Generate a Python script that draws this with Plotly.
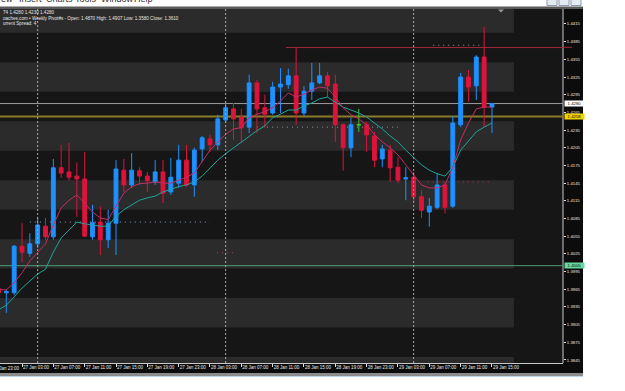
import plotly.graph_objects as go

# ---------------- data ----------------
hours = list(range(64))  # hourly bars, index 0 = 27 Jan 00:00

opens = [1.3966, 1.3959, 1.3959, 1.4038, 1.4026, 1.4042, 1.4072, 1.4054,
         1.4171, 1.4164, 1.4157, 1.4152, 1.4054, 1.4079, 1.4049, 1.4077,
         1.4167, 1.4142, 1.4166, 1.4157, 1.4147, 1.4164, 1.4130, 1.4145,
         1.4184, 1.4142, 1.4203, 1.4220, 1.4210, 1.4252, 1.4271, 1.4257,
         1.4240, 1.4315, 1.4273, 1.4264, 1.4308, 1.4312, 1.4327, 1.4264,
         1.4301, 1.4315, 1.4327, 1.4313, 1.4244, 1.4205, 1.4244, 1.4244,
         1.4225, 1.4186, 1.4201, 1.4172, 1.4152, 1.4155, 1.4122, 1.4096,
         1.4104, 1.4142, 1.4106, 1.4244, 1.4325, 1.4310, 1.4359, 1.4274]
highs = [1.3971, 1.3965, 1.4040, 1.4077, 1.4060, 1.4088, 1.4086, 1.4186,
         1.4210, 1.4213, 1.4180, 1.4198, 1.4108, 1.4105, 1.4100, 1.4184,
         1.4186, 1.4196, 1.4172, 1.4164, 1.4184, 1.4184, 1.4188, 1.4210,
         1.4210, 1.4205, 1.4225, 1.4227, 1.4261, 1.4283, 1.4281, 1.4271,
         1.4329, 1.4320, 1.4295, 1.4317, 1.4340, 1.4339, 1.4374, 1.4310,
         1.4349, 1.4349, 1.4334, 1.4329, 1.4246, 1.4256, 1.4271, 1.4249,
         1.4232, 1.4210, 1.4210, 1.4189, 1.4172, 1.4164, 1.4133, 1.4120,
         1.4162, 1.4147, 1.4259, 1.4332, 1.4337, 1.4362, 1.4410, 1.4280]
lows = [1.3954, 1.3925, 1.3955, 1.4011, 1.4020, 1.4035, 1.4049, 1.4049,
        1.4154, 1.4149, 1.4088, 1.4054, 1.4049, 1.4023, 1.4035, 1.4023,
        1.4130, 1.4137, 1.4142, 1.4130, 1.4142, 1.4111, 1.4125, 1.4137,
        1.4139, 1.4122, 1.4181, 1.4198, 1.4201, 1.4247, 1.4218, 1.4213,
        1.4230, 1.4230, 1.4239, 1.4261, 1.4264, 1.4305, 1.4244, 1.4259,
        1.4286, 1.4313, 1.4291, 1.4215, 1.4166, 1.4189, 1.4232, 1.4198,
        1.4172, 1.4172, 1.4147, 1.4145, 1.4116, 1.4113, 1.4086, 1.4071,
        1.4101, 1.4094, 1.4103, 1.4240, 1.4283, 1.4286, 1.4240, 1.4230]
closes = [1.3959, 1.3961, 1.4038, 1.4028, 1.4042, 1.4074, 1.4054, 1.4171,
          1.4162, 1.4155, 1.4152, 1.4055, 1.4078, 1.4049, 1.4077, 1.4169,
          1.4142, 1.4167, 1.4157, 1.4149, 1.4164, 1.4128, 1.4155, 1.4184,
          1.4142, 1.4201, 1.4222, 1.4210, 1.4254, 1.4273, 1.4254, 1.4239,
          1.4315, 1.4271, 1.4262, 1.4308, 1.4313, 1.4327, 1.4264, 1.4301,
          1.4315, 1.4327, 1.4310, 1.4244, 1.4205, 1.4244, 1.4244, 1.4227,
          1.4184, 1.4203, 1.4171, 1.4150, 1.4154, 1.4122, 1.4099, 1.4106,
          1.4142, 1.4104, 1.4247, 1.4325, 1.4308, 1.4359, 1.4274, 1.4280]

fast_ma = [1.3964, 1.3964, 1.3976, 1.3993, 1.4013, 1.4027, 1.4042, 1.4074,
           1.4103, 1.4116, 1.4125, 1.4111, 1.4096, 1.4086, 1.4083, 1.4106,
           1.4128, 1.4139, 1.4144, 1.4145, 1.4147, 1.4145, 1.4145, 1.4150,
           1.4155, 1.4162, 1.4181, 1.4201, 1.4215, 1.4228, 1.4237, 1.4239,
           1.4256, 1.4262, 1.4266, 1.4273, 1.4284, 1.4298, 1.4291, 1.4296,
           1.4303, 1.4308, 1.4306, 1.4291, 1.4273, 1.4261, 1.4254, 1.4244,
           1.4227, 1.4215, 1.4205, 1.4193, 1.4176, 1.4159, 1.4142, 1.4137,
           1.4137, 1.4142, 1.4172, 1.4218, 1.4247, 1.4271, 1.4274, 1.4274]
slow_ma = [1.3930, 1.3938, 1.3952, 1.3967, 1.3979, 1.3991, 1.3999, 1.4028,
           1.4052, 1.4066, 1.4079, 1.4076, 1.4074, 1.4072, 1.4072, 1.4089,
           1.4100, 1.4108, 1.4116, 1.4120, 1.4123, 1.4130, 1.4135, 1.4139,
           1.4142, 1.4147, 1.4157, 1.4171, 1.4184, 1.4195, 1.4205, 1.4215,
           1.4225, 1.4234, 1.4242, 1.4256, 1.4262, 1.4269, 1.4269, 1.4276,
           1.4281, 1.4288, 1.4291, 1.4283, 1.4274, 1.4269, 1.4264, 1.4257,
           1.4247, 1.4237, 1.4225, 1.4215, 1.4201, 1.4188, 1.4176, 1.4167,
           1.4161, 1.4157, 1.4172, 1.4201, 1.4217, 1.4232, 1.4240, 1.4247]

tick_hours = [3, 7, 11, 15, 19, 23, 27, 31, 35, 39, 43, 47, 51, 55, 59, 63]
tick_labels = ["27 Jan 03:00", "27 Jan 07:00", "27 Jan 11:00", "27 Jan 15:00",
               "27 Jan 19:00", "27 Jan 23:00", "28 Jan 03:00", "28 Jan 07:00",
               "28 Jan 11:00", "28 Jan 15:00", "28 Jan 19:00", "28 Jan 23:00",
               "29 Jan 03:00", "29 Jan 07:00", "29 Jan 11:00", "29 Jan 15:00"]
price_ticks = [1.3845, 1.3875, 1.3905, 1.3935, 1.3965, 1.3995, 1.4025, 1.4055,
               1.4085, 1.4115, 1.4145, 1.4175, 1.4205, 1.4235, 1.4265, 1.4295,
               1.4325, 1.4355, 1.4385, 1.4415]

bid_level = 1.4280
olive_level = 1.4258
green_level = 1.4005
week_high_level = 1.4375
separator_hours = [5, 29, 53]
band_lows = [1.380, 1.390, 1.400, 1.410, 1.420, 1.430, 1.440]
band_height = 0.005

header_lines = ["74 1.4280 1.4230 1.4280",
                "oaches.com \u2022 Weekly Pivot#s - Open: 1.4870 High: 1.4907 Low: 1.3580 Close: 1.3610",
                "urrent Spread: 4"]
menu_items = ["ew", "Insert", "Charts", "Tools", "Window", "Help"]

# ---------------- styling / layout helpers ----------------
FONT = "Liberation Sans, Arial, sans-serif"
BLUE = "#1e90ff"
RED = "#dc143c"
LIME = "#33cc33"
PINK = "#c02f66"
TEAL = "#1fa59a"
PLOT_W, PT, PB = 563, 9, 363


def pxx(px):
    return px / PLOT_W


def pyy(py):
    return 1 - (py - PT) / (PB - PT)


fig = go.Figure()

main_idx = [i for i in hours if opens[i] != closes[i]]
doji_idx = [i for i in hours if opens[i] == closes[i]]

fig.add_trace(go.Candlestick(
    x=[hours[i] for i in main_idx],
    open=[opens[i] for i in main_idx], high=[highs[i] for i in main_idx],
    low=[lows[i] for i in main_idx], close=[closes[i] for i in main_idx],
    increasing=dict(line=dict(color=BLUE, width=1), fillcolor=BLUE),
    decreasing=dict(line=dict(color=RED, width=1), fillcolor=RED),
    whiskerwidth=0, hoverinfo="skip", showlegend=False))
fig.add_trace(go.Candlestick(
    x=[hours[i] for i in doji_idx],
    open=[opens[i] for i in doji_idx], high=[highs[i] for i in doji_idx],
    low=[lows[i] for i in doji_idx], close=[closes[i] for i in doji_idx],
    increasing=dict(line=dict(color=LIME, width=1), fillcolor=LIME),
    decreasing=dict(line=dict(color=LIME, width=1), fillcolor=LIME),
    whiskerwidth=0, hoverinfo="skip", showlegend=False))
fig.add_trace(go.Scatter(x=hours, y=slow_ma, mode="lines",
                         line=dict(color=TEAL, width=1), hoverinfo="skip"))
fig.add_trace(go.Scatter(x=hours, y=fast_ma, mode="lines",
                         line=dict(color=PINK, width=1), hoverinfo="skip"))

shapes = []
# background bands
for lo in band_lows:
    shapes.append(dict(type="rect", xref="x", yref="y", x0=-2, x1=65.8,
                       y0=lo, y1=lo + band_height, fillcolor="#2b2b2b",
                       line=dict(width=0), layer="below"))
# horizontal levels (full width)
for lvl, col, wd in [(green_level, "#4f9a72", 1), (olive_level, "#8a7a28", 2),
                     (bid_level, "#9c9c9c", 1)]:
    shapes.append(dict(type="line", xref="x", yref="y", x0=-2, x1=80, y0=lvl, y1=lvl,
                       line=dict(color=col, width=wd), layer="below"))
shapes.append(dict(type="line", xref="x", yref="y", x0=36.7, x1=80, y0=week_high_level,
                   y1=week_high_level, line=dict(color="#a3283a", width=1), layer="below"))
# dotted pivot segments
dotted = [(4.0, 27.0, 1.4079, "#7fa3cc"), (33.0, 51.0, 1.4240, "#8a96a6"),
          (54.8, 63.0, 1.4147, "#b03848"), (27.9, 30.0, 1.4027, "#b03848"),
          (55.5, 61.5, 1.4379, "#9a9a9a")]
for x0, x1, lvl, col in dotted:
    shapes.append(dict(type="line", xref="x", yref="y", x0=x0, x1=x1, y0=lvl, y1=lvl,
                       line=dict(color=col, width=1, dash="1px,4px"), layer="below"))
# day separators
for h in separator_hours:
    shapes.append(dict(type="line", xref="x", yref="paper", x0=h, x1=h, y0=0, y1=1,
                       line=dict(color="#a8a8a8", width=1, dash="2px,2px"), layer="above"))


# frame pieces outside plotting area (paper pixel coordinates)
def prect(x0, y0, x1, y1, fill, line=None):
    return dict(type="rect", xref="paper", yref="paper", x0=pxx(x0), x1=pxx(x1),
                y0=pyy(y1), y1=pyy(y0), fillcolor=fill,
                line=line or dict(width=0), layer="below")


shapes.append(prect(0, 6.5, 583, 9, "#5a5a5a"))
shapes.append(prect(563, 9, 583, 373, "#0c0c0c"))
shapes.append(prect(0, 363, 583, 373, "#0c0c0c"))
shapes.append(prect(0, 373, 583, 376, "#8c8c8c"))
shapes.append(prect(0, 376, 583, 377, "#bcd6e6"))
shapes.append(prect(562.5, 9, 563.5, 363, "#c8c8c8"))
# red level continues slightly into the price scale
shapes.append(dict(type="line", xref="paper", yref="paper", x0=1, x1=pxx(572),
                   y0=pyy(47.3), y1=pyy(47.3), line=dict(color="#a3283a", width=1),
                   layer="above"))
# window buttons
for bx0, bx1 in [(547, 557), (559, 569), (571, 581)]:
    shapes.append(prect(bx0, -2, bx1, 5.5, "#e4eaf2", dict(color="#8c9bb0", width=1)))
# chart shift marker
shapes.append(dict(type="path", xref="paper", yref="paper", layer="above",
                   path="M %f,%f L %f,%f L %f,%f Z" % (pxx(498), pyy(9.5), pxx(504), pyy(9.5),
                                                       pxx(501), pyy(12.5)),
                   fillcolor="#9a9a9a", line=dict(width=0)))

annotations = []
for k, txt in enumerate(header_lines):
    annotations.append(dict(xref="paper", yref="paper", x=pxx(0.5), y=pyy(12.5 + 5.5 * k),
                            xanchor="left", yanchor="middle", text=txt, showarrow=False,
                            font=dict(family=FONT, size=4.6, color="#e6e6e6")))
menu_x = [-1, 17, 44, 73, 99, 132]
for mx, txt in zip(menu_x, menu_items):
    annotations.append(dict(xref="paper", yref="paper", x=pxx(mx), y=pyy(6),
                            xanchor="left", yanchor="bottom", text=txt, showarrow=False,
                            font=dict(family=FONT, size=9, color="#333333")))
# partially visible left time label
annotations.append(dict(xref="paper", yref="paper", x=pxx(-9.3), y=pyy(368.3),
                        xanchor="left", yanchor="middle", text="26 Jan 23:00",
                        showarrow=False, font=dict(family=FONT, size=4.5, color="#e8e8e8")))
# price boxes on the axis
for lvl, bg, fg in [(bid_level, "#ffffff", "#000000"), (olive_level, "#f0d400", "#000000"),
                    (green_level, "#66d9a0", "#000000")]:
    annotations.append(dict(xref="paper", yref="y", x=pxx(563.5), y=lvl, xanchor="left",
                            yanchor="middle", text="%.4f" % lvl, showarrow=False,
                            bgcolor=bg, borderpad=0, width=19, height=5,
                            font=dict(family=FONT, size=4.3, color=fg)))

fig.update_layout(
    width=625, height=391,
    margin=dict(l=0, r=62, t=9, b=28, pad=0, autoexpand=False),
    paper_bgcolor="#ffffff", plot_bgcolor="#161616",
    showlegend=False, hovermode=False,
    shapes=shapes, annotations=annotations,
    xaxis=dict(range=[0.19, 72.07], rangeslider=dict(visible=False), showgrid=False,
               zeroline=False, tickmode="array", tickvals=tick_hours, ticktext=tick_labels,
               ticks="outside", ticklen=3, tickwidth=1, tickcolor="#dddddd",
               tickangle=0, ticklabelposition="outside right",
               tickfont=dict(family=FONT, size=4.5, color="#e8e8e8"),
               showline=True, linecolor="#c8c8c8", linewidth=1, fixedrange=True),
    yaxis=dict(side="right", range=[1.38399, 1.44404], showgrid=False, zeroline=False,
               tickmode="array", tickvals=price_ticks, tickformat=".4f",
               ticks="outside", ticklen=2, tickwidth=1, tickcolor="#dddddd",
               tickfont=dict(family=FONT, size=4.3, color="#e8e8e8"),
               showline=False, fixedrange=True),
)

fig.write_html("out.html", config=dict(displayModeBar=False, staticPlot=True))
